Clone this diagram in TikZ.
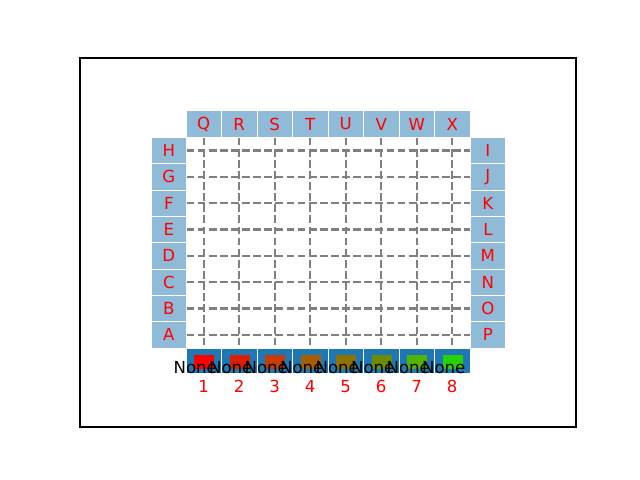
\documentclass[tikz,border=0pt]{standalone}
\usepackage{fontspec}
\setmainfont{DejaVu Sans}
\usepackage{xcolor}
\usepackage{tikz}
\usetikzlibrary{positioning}
\definecolor{tabblue}{HTML}{1F77B4}
\definecolor{paleblue}{HTML}{8FBBD9}
\definecolor{chipone}{HTML}{FF0000}
\definecolor{chiptwo}{HTML}{DC1E00}
\definecolor{chipthree}{HTML}{C83C00}
\definecolor{chipfour}{HTML}{A55F00}
\definecolor{chipfive}{HTML}{8C7300}
\definecolor{chipsix}{HTML}{6E8C00}
\definecolor{chipseven}{HTML}{50B400}
\definecolor{chipeight}{HTML}{28D200}
\newcommand{\labfont}{\fontsize{11.8}{14}\selectfont}

\begin{document}
\begin{tikzpicture}[x=0.025cm, y=-0.025cm,
    topbox/.style={draw=white, line width=0.6pt, fill=paleblue, inner sep=0pt, minimum width=0.8875cm, minimum height=0.665cm, font=\labfont, text=red},
    sidebox/.style={topbox, minimum width=0.87cm, minimum height=0.6585cm},
    slotbox/.style={draw=white, line width=0.6pt, fill=tabblue, inner sep=0pt, minimum width=0.8875cm, minimum height=0.625cm},
    chip/.style={inner sep=0pt, minimum width=0.5cm, minimum height=0.35cm},
    slottext/.style={font=\labfont, inner sep=0pt, anchor=base},
    gridline/.style={draw=gray, line width=1.5pt, dash pattern=on 5.5pt off 2.4pt}
]
\useasboundingbox (0,0) rectangle (640,480);
\draw[line width=0.8pt] (80,58) rectangle (576,427);
% top letters and bottom slots
\foreach \i/\t/\c in {1/Q/one,2/R/two,3/S/three,4/T/four,5/U/five,6/V/six,7/W/seven,8/X/eight} {
  \node[topbox] (top\i) at ({186+35.5*(\i-0.5)},124) {\t};
  \node[slotbox] (slot\i) at ({186+35.5*(\i-0.5)},361) {};
  \node[chip, fill=chip\c] (chip\i) at ({186.5+35.5*(\i-0.5)},362) {};
  \node[slottext] (none\i) at ({177.5+35.5*(\i-0.5)},373) {None};
  \node[slottext, text=red] (num\i) at ({186+35.5*(\i-0.5)},392) {\i};
}
% side letters
\foreach \j/\l/\r in {1/H/I,2/G/J,3/F/K,4/E/L,5/D/M,6/C/N,7/B/O,8/A/P} {
  \node[sidebox] (left\j) at (168.8,{137.3+26.34*(\j-0.5)}) {\l};
  \node[sidebox] (right\j) at (487.9,{137.3+26.34*(\j-0.5)}) {\r};
}
% grid
\foreach \i in {1,...,8}
  \draw[gridline] (top\i.south) -- (slot\i.north);
\foreach \j in {1,...,8}
  \draw[gridline] (left\j.east) -- (right\j.west);
\end{tikzpicture}
\end{document}
